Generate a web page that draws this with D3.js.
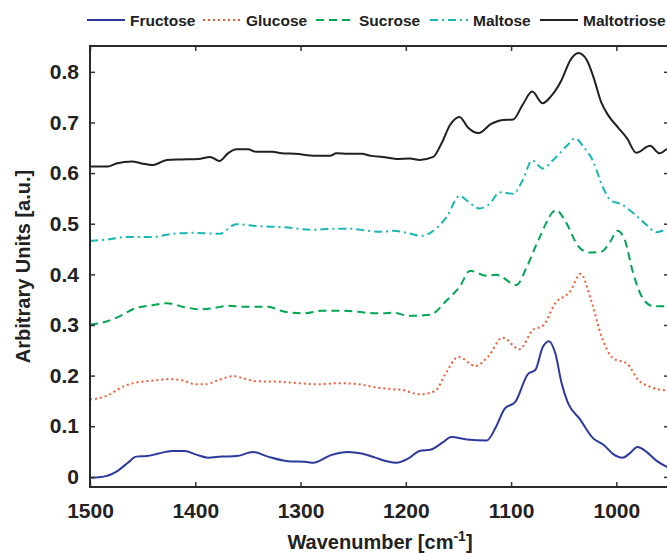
<!DOCTYPE html>
<html>
<head>
<meta charset="utf-8">
<script src="https://cdn.jsdelivr.net/npm/d3@7"></script>
<style>
  body { margin: 0; background: #fff; }
  svg { display: block; font-family: "Liberation Sans", Arial, sans-serif; }
</style>
</head>
<body>
<div id="chart"></div>
<script>
// IR spectra of sugars.
const seriesNames = ["Fructose", "Glucose", "Sucrose", "Maltose", "Maltotriose"];

const fructose = [[1500,-0.002],[1486,0.001],[1473,0.013],[1464,0.028],[1456,0.040],[1446,0.041],[1435,0.046],[1422,0.051],[1410,0.051],[1399,0.044],[1388,0.038],[1375,0.040],[1361,0.041],[1345,0.049],[1331,0.040],[1312,0.031],[1296,0.030],[1288,0.028],[1271,0.043],[1255,0.049],[1242,0.046],[1229,0.038],[1218,0.031],[1209,0.028],[1198,0.036],[1187,0.051],[1176,0.054],[1165,0.068],[1157,0.079],[1142,0.074],[1123,0.072],[1115,0.096],[1106,0.135],[1096,0.148],[1084,0.203],[1077,0.211],[1070,0.256],[1064,0.268],[1058,0.244],[1052,0.185],[1046,0.146],[1035,0.115],[1022,0.076],[1012,0.063],[1003,0.045],[994,0.038],[987,0.047],[980,0.059],[971,0.049],[962,0.032],[952,0.020],[945,0.015]];

const glucose = [[1500,0.153],[1483,0.161],[1470,0.177],[1457,0.186],[1441,0.190],[1424,0.193],[1413,0.191],[1400,0.183],[1391,0.183],[1378,0.191],[1364,0.199],[1353,0.194],[1343,0.189],[1321,0.188],[1302,0.185],[1283,0.183],[1264,0.185],[1245,0.183],[1229,0.177],[1212,0.173],[1204,0.172],[1187,0.163],[1172,0.170],[1163,0.201],[1150,0.237],[1134,0.219],[1122,0.237],[1108,0.275],[1092,0.252],[1079,0.291],[1070,0.298],[1058,0.343],[1044,0.366],[1034,0.401],[1024,0.349],[1014,0.277],[1003,0.234],[990,0.224],[979,0.191],[968,0.178],[954,0.171],[945,0.170]];

const sucrose = [[1500,0.301],[1486,0.306],[1473,0.316],[1457,0.333],[1441,0.339],[1427,0.343],[1410,0.335],[1394,0.331],[1381,0.334],[1369,0.338],[1353,0.336],[1331,0.336],[1315,0.326],[1296,0.323],[1280,0.328],[1258,0.328],[1236,0.324],[1222,0.323],[1212,0.324],[1196,0.318],[1177,0.320],[1161,0.349],[1149,0.375],[1139,0.407],[1123,0.397],[1114,0.399],[1095,0.379],[1085,0.415],[1074,0.468],[1057,0.527],[1049,0.507],[1036,0.455],[1026,0.443],[1014,0.445],[1006,0.464],[999,0.486],[992,0.468],[984,0.402],[975,0.353],[965,0.337],[952,0.337],[945,0.337]];

const maltose = [[1500,0.466],[1483,0.469],[1464,0.474],[1441,0.474],[1422,0.480],[1403,0.482],[1388,0.481],[1377,0.480],[1361,0.499],[1340,0.495],[1315,0.493],[1290,0.488],[1267,0.490],[1252,0.490],[1236,0.486],[1222,0.484],[1212,0.486],[1199,0.482],[1185,0.476],[1171,0.491],[1161,0.514],[1149,0.555],[1141,0.544],[1130,0.530],[1120,0.540],[1111,0.562],[1098,0.559],[1089,0.586],[1080,0.625],[1070,0.609],[1060,0.626],[1047,0.654],[1039,0.669],[1032,0.654],[1022,0.623],[1013,0.573],[1005,0.545],[997,0.540],[984,0.521],[971,0.497],[962,0.483],[952,0.489],[945,0.490]];

const maltotriose = [[1500,0.613],[1483,0.613],[1475,0.619],[1460,0.623],[1451,0.619],[1440,0.616],[1427,0.626],[1413,0.627],[1397,0.628],[1386,0.632],[1377,0.624],[1369,0.639],[1361,0.647],[1350,0.647],[1342,0.642],[1327,0.642],[1318,0.639],[1305,0.638],[1286,0.634],[1272,0.634],[1266,0.639],[1255,0.638],[1242,0.638],[1233,0.634],[1222,0.632],[1209,0.628],[1196,0.629],[1187,0.626],[1174,0.632],[1166,0.659],[1158,0.695],[1149,0.711],[1141,0.690],[1131,0.679],[1119,0.697],[1108,0.705],[1098,0.706],[1089,0.735],[1080,0.761],[1070,0.738],[1062,0.752],[1052,0.784],[1044,0.822],[1036,0.837],[1028,0.823],[1022,0.791],[1014,0.738],[1008,0.715],[998,0.689],[990,0.669],[981,0.640],[968,0.654],[959,0.639],[952,0.647],[945,0.650]];

const xTicks = [1500, 1400, 1300, 1200, 1100, 1000];
const yTicks = [0, 0.1, 0.2, 0.3, 0.4, 0.5, 0.6, 0.7, 0.8];

const seriesData = [fructose, glucose, sucrose, maltose, maltotriose];
const colors = ["#2b3a9c", "#f05a32", "#00a650", "#1ab5b5", "#231f20"];
const dashes = [null, "2,3", "8,5", "8,4,2,4", null];

const W = 667, H = 553;
const margin = {top: 46, right: -2, bottom: 66, left: 90};
const width = W - margin.left - margin.right;
const height = H - margin.top - margin.bottom;

const svg = d3.select("#chart").append("svg")
    .attr("width", W)
    .attr("height", H);

const g = svg.append("g")
    .attr("transform", `translate(${margin.left},${margin.top})`);

// Reversed wavenumber axis.
const x = d3.scaleLinear().domain([1500, 950]).range([0, width]);
const y = d3.scaleLinear().domain([-0.02, 0.851]).range([height, 0]);

g.append("clipPath").attr("id", "clip")
    .append("rect").attr("width", width).attr("height", height);

const line = d3.line()
    .x(d => x(d[0]))
    .y(d => y(d[1]))
    .curve(d3.curveMonotoneX);

seriesData.forEach((data, i) => {
    g.append("path")
        .datum(data)
        .attr("clip-path", "url(#clip)")
        .attr("fill", "none")
        .attr("stroke", colors[i])
        .attr("stroke-width", 2)
        .attr("stroke-dasharray", dashes[i])
        .attr("d", line);
});

// Axes: ticks point inward on all four sides.
const tickStyle = sel => {
    sel.select(".domain").remove();
    sel.selectAll(".tick line").attr("stroke", "#333").attr("stroke-width", 1.5);
    sel.selectAll(".tick text")
        .attr("fill", "#222")
        .style("font-size", "21px")
        .style("font-weight", "bold");
};

g.append("g")
    .attr("transform", `translate(0,${height})`)
    .call(d3.axisBottom(x).tickValues(xTicks).tickSizeInner(-5).tickPadding(16).tickFormat(d3.format("d")))
    .call(tickStyle);

g.append("g")
    .call(d3.axisTop(x).tickValues(xTicks).tickSizeInner(-5).tickFormat(""))
    .call(tickStyle);

g.append("g")
    .call(d3.axisLeft(y).tickValues(yTicks).tickSizeInner(-5).tickPadding(11).tickFormat(d => d === 0 ? "0" : d3.format(".1f")(d)))
    .call(tickStyle);

g.append("g")
    .attr("transform", `translate(${width},0)`)
    .call(d3.axisRight(y).tickValues(yTicks).tickSizeInner(-5).tickFormat(""))
    .call(tickStyle);

// Frame.
g.append("rect")
    .attr("width", width)
    .attr("height", height)
    .attr("fill", "none")
    .attr("stroke", "#2a2a2a")
    .attr("stroke-width", 2);

// Axis titles.
const xTitle = svg.append("text")
    .attr("x", 380)
    .attr("y", 549)
    .attr("text-anchor", "middle")
    .attr("fill", "#222")
    .style("font-size", "20px")
    .style("font-weight", "bold")
    .text("Wavenumber [cm");
xTitle.append("tspan").attr("dy", -8).style("font-size", "14px").text("-1");
xTitle.append("tspan").attr("dy", 8).text("]");

svg.append("text")
    .attr("transform", `translate(29.5,${margin.top + height / 2}) rotate(-90)`)
    .attr("text-anchor", "middle")
    .attr("fill", "#222")
    .style("font-size", "20px")
    .style("font-weight", "bold")
    .text("Arbitrary Units [a.u.]");

// Legend across the top (item start positions match the reference layout).
const legendX = [87, 203, 316, 430, 540];
const legend = svg.append("g").attr("transform", "translate(0,20)");
seriesNames.forEach((name, i) => {
    legend.append("line")
        .attr("x1", legendX[i]).attr("x2", legendX[i] + 38)
        .attr("y1", 0).attr("y2", 0)
        .attr("stroke", colors[i])
        .attr("stroke-width", 2)
        .attr("stroke-dasharray", dashes[i]);
    legend.append("text")
        .attr("x", legendX[i] + 43)
        .attr("y", 6)
        .attr("fill", "#222")
        .style("font-size", "15.5px")
        .style("font-weight", "bold")
        .text(name);
});
</script>
</body>
</html>
